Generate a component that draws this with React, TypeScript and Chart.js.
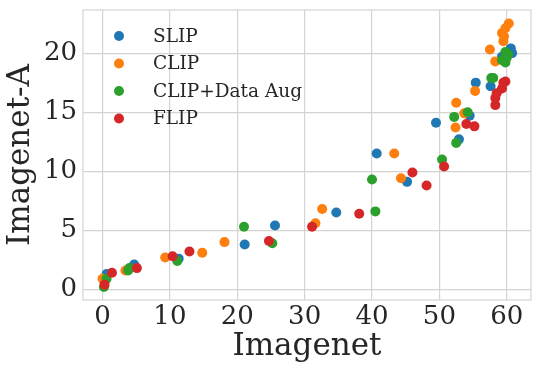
import React, { useEffect, useRef } from "react";
import { Chart, registerables } from "chart.js";

Chart.register(...registerables);

const seriesNames = ["SLIP", "CLIP", "CLIP+Data Aug", "FLIP"];
const seriesColors = ["#1f77b4", "#ff7f0e", "#2ca02c", "#d62728"];

const slipX = [0.6, 4.7, 11.3, 21.1, 25.6, 34.7, 40.7, 45.2, 49.5, 52.9, 54.5, 55.4, 57.6, 59.3, 60.6, 60.8, 60.3];
const slipY = [1.3, 2.1, 2.6, 3.8, 5.4, 6.5, 11.5, 9.1, 14.1, 12.7, 14.7, 17.5, 17.2, 19.7, 20.4, 20.0, 19.9];

const clipX = [0.0, 3.4, 9.3, 14.8, 18.1, 31.6, 32.6, 43.3, 44.3, 52.4, 52.5, 53.7, 55.3, 57.5, 58.3, 59.5, 59.3, 59.8, 60.3, 59.6];
const clipY = [0.9, 1.6, 2.7, 3.1, 4.0, 5.6, 6.8, 11.5, 9.4, 13.7, 15.8, 14.9, 16.8, 20.3, 19.3, 21.0, 21.7, 22.1, 22.5, 21.4];

const augX = [0.2, 0.6, 3.8, 4.0, 11.1, 21.0, 25.2, 40.0, 40.5, 50.4, 52.2, 52.5, 54.2, 57.7, 58.0, 59.3, 59.8, 60.0, 59.8, 60.2];
const augY = [0.2, 0.9, 1.6, 1.8, 2.4, 5.3, 3.9, 9.3, 6.6, 11.0, 14.6, 12.4, 15.0, 17.9, 17.9, 19.4, 19.2, 19.6, 20.1, 19.9];

const flipX = [0.3, 1.4, 5.1, 10.4, 12.9, 24.7, 31.1, 38.1, 46.0, 48.1, 50.7, 54.0, 55.2, 58.3, 58.3, 58.5, 59.3, 59.5, 59.8];
const flipY = [0.4, 1.4, 1.8, 2.8, 3.2, 4.1, 5.3, 6.4, 9.9, 8.8, 10.4, 14.0, 13.8, 15.6, 16.2, 16.6, 17.0, 17.5, 17.6];

const xTicks = [0, 10, 20, 30, 40, 50, 60];
const yTicks = [0, 5, 10, 15, 20];

const FONT = "'DejaVu Serif', serif";
const TEXT = "#262626";
const GRID = "#d4d4d4";

const zip = (xs: number[], ys: number[]) => xs.map((x, i) => ({ x, y: ys[i] }));

const frameAndLegend = {
  id: "frameAndLegend",
  beforeDatasetsDraw(chart: any) {
    const { ctx, chartArea } = chart;
    ctx.save();
    ctx.strokeStyle = GRID;
    ctx.lineWidth = 1.2;
    ctx.strokeRect(chartArea.left, chartArea.top, chartArea.right - chartArea.left, chartArea.bottom - chartArea.top);
    ctx.restore();
  },
  afterDatasetsDraw(chart: any) {
    const { ctx } = chart;
    ctx.save();
    ctx.font = `18.5px ${FONT}`;
    ctx.textBaseline = "middle";
    ctx.textAlign = "left";
    seriesNames.forEach((name, i) => {
      const y = 36 + i * 27.5;
      ctx.beginPath();
      ctx.arc(119, y, 5, 0, Math.PI * 2);
      ctx.fillStyle = seriesColors[i];
      ctx.fill();
      ctx.fillStyle = TEXT;
      ctx.fillText(name, 153, y + 1);
    });
    ctx.restore();
  },
};

export default function App() {
  const ref = useRef<HTMLCanvasElement>(null);
  useEffect(() => {
    const data = [zip(slipX, slipY), zip(clipX, clipY), zip(augX, augY), zip(flipX, flipY)];
    const chart = new Chart(ref.current as HTMLCanvasElement, {
      type: "scatter",
      data: {
        datasets: seriesNames.map((name, i) => ({
          label: name,
          data: data[i],
          backgroundColor: seriesColors[i],
          borderWidth: 0,
          pointRadius: 5,
          order: 4 - i,
        })),
      },
      options: {
        animation: false,
        responsive: false,
        devicePixelRatio: 1,
        layout: { padding: { top: 10, right: 9, left: 0, bottom: 0 } },
        plugins: { legend: { display: false }, tooltip: { enabled: false } },
        scales: {
          x: {
            type: "linear",
            min: -2.9,
            max: 63.6,
            afterBuildTicks: (s: any) => { s.ticks = xTicks.map((v) => ({ value: v })); },
            afterFit: (s: any) => { s.height = 76; s.paddingLeft = 0; s.paddingRight = 0; s.paddingTop = 0; s.paddingBottom = 0; },
            grid: { color: GRID, lineWidth: 1.2, drawTicks: false },
            border: { display: false },
            ticks: { color: TEXT, font: { family: FONT, size: 26 }, padding: 2, maxRotation: 0 },
            title: { display: true, text: "Imagenet", color: TEXT, font: { family: FONT, size: 31, lineHeight: 1.2 }, padding: { top: 0, bottom: 10 } },
          },
          y: {
            type: "linear",
            min: -0.9,
            max: 23.65,
            afterBuildTicks: (s: any) => { s.ticks = yTicks.map((v) => ({ value: v })); },
            afterFit: (s: any) => { s.width = 83; s.paddingLeft = 0; s.paddingRight = 0; s.paddingTop = 0; s.paddingBottom = 0; },
            grid: { color: GRID, lineWidth: 1.2, drawTicks: false },
            border: { display: false },
            ticks: { color: TEXT, font: { family: FONT, size: 26 }, padding: 6 },
            title: { display: true, text: "Imagenet-A", color: TEXT, font: { family: FONT, size: 31, lineHeight: 1.2 }, padding: { top: 2, bottom: 0 } },
          },
        },
      },
      plugins: [frameAndLegend],
    });
    return () => chart.destroy();
  }, []);
  return (
    <div style={{ position: "absolute", left: 0, top: 0, width: 540, height: 376, background: "#fff" }}>
      <canvas ref={ref} width={540} height={376} />
    </div>
  );
}
